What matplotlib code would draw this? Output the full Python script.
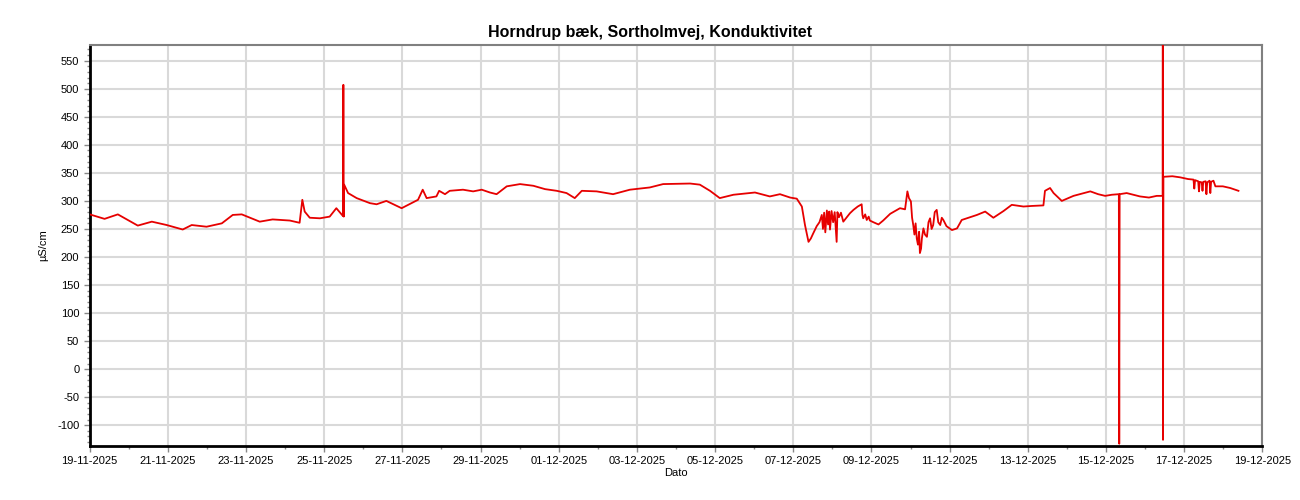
import numpy as np
import pandas as pd
import matplotlib
matplotlib.use('Agg')
import matplotlib.pyplot as plt
import matplotlib.dates as mdates
from matplotlib.ticker import MultipleLocator, FixedLocator

plt.rcParams['font.family'] = ['Liberation Sans', 'DejaVu Sans']
plt.rcParams['axes.unicode_minus'] = False

# tid i dage efter 19-11-2025 00:00
dage = [
    0.00, 0.38, 0.72, 1.23, 1.59, 1.97, 2.38, 2.61, 2.99, 3.38, 3.66, 3.89,
    4.35, 4.68, 5.12, 5.37, 5.44, 5.50, 5.63, 5.89, 6.14, 6.31, 6.48,
    6.49, 6.50, 6.51, 6.61, 6.83, 7.17, 7.34, 7.59, 7.98, 8.40, 8.52, 8.62,
    8.87, 8.94, 9.09, 9.21, 9.55, 9.81, 10.03, 10.24, 10.41, 10.67, 11.01,
    11.35, 11.65, 11.95, 12.20, 12.41, 12.59, 12.97, 13.39, 13.82, 14.33,
    14.67, 15.36, 15.61, 15.87, 16.12, 16.47, 17.02, 17.40, 17.66, 17.92,
    18.09, 18.22, 18.30, 18.39, 18.45, 18.51, 18.60, 18.67, 18.73, 18.76,
    18.79, 18.82, 18.86, 18.89, 18.92, 18.94, 18.98, 19.02, 19.06, 19.11,
    19.13, 19.17, 19.22, 19.28, 19.36, 19.45, 19.54, 19.65, 19.75, 19.77,
    19.79, 19.84, 19.88, 19.93, 19.96, 20.05, 20.18, 20.30, 20.48, 20.73,
    20.86, 20.92, 20.96, 21.01, 21.04, 21.07, 21.10, 21.13, 21.16, 21.19,
    21.22, 21.24, 21.27, 21.29, 21.33, 21.37, 21.42, 21.46, 21.50, 21.54,
    21.58, 21.62, 21.67, 21.71, 21.76, 21.80, 21.84, 21.92, 22.06, 22.19,
    22.31, 22.70, 22.91, 23.12, 23.38, 23.59, 23.89, 24.10, 24.40, 24.44,
    24.57, 24.66, 24.87, 25.17, 25.60, 25.80, 25.98, 26.15, 26.33, 26.34,
    26.35, 26.53, 26.87, 27.10, 27.30, 27.45, 27.455, 27.46, 27.47, 27.70,
    27.90, 28.10, 28.24, 28.26, 28.28, 28.36, 28.38, 28.40, 28.45, 28.47,
    28.49, 28.55, 28.57, 28.59, 28.65, 28.67, 28.69, 28.75, 28.80, 28.99,
    29.18, 29.39,
]

konduktivitet = [
    276, 268, 276, 256, 263, 257, 249, 257, 254, 260, 275, 276,
    263, 267, 265, 261, 302, 281, 270, 269, 272, 287, 273,
    507, 272, 329, 314, 305, 296, 294, 300, 287, 302, 320, 305,
    308, 318, 312, 318, 320, 317, 320, 315, 312, 326, 330,
    327, 321, 318, 314, 305, 318, 317, 312, 320, 324,
    330, 331, 329, 318, 305, 311, 315, 308, 312, 306,
    304, 290, 257, 227, 233, 242, 255, 262, 275, 250,
    279, 244, 283, 258, 281, 249, 282, 262, 280, 227,
    280, 271, 279, 263, 270, 278, 284, 290, 294, 275,
    269, 276, 266, 272, 265, 262, 258, 265, 277, 287,
    285, 317, 305, 299, 270, 257, 240, 260, 233, 222,
    245, 207, 215, 233, 251, 240, 236, 262, 269, 250,
    257, 280, 284, 262, 257, 270, 266, 255, 248, 251,
    266, 275, 281, 270, 282, 293, 290, 291, 292, 318,
    323, 314, 300, 309, 317, 312, 309, 311, 312, -133,
    312, 314, 308, 306, 309, 309, 650, -126, 343, 344,
    342, 339, 338, 322, 337, 335, 317, 334, 333, 318,
    334, 335, 312, 333, 336, 314, 334, 336, 326, 326,
    323, 318,
]

start = pd.Timestamp('2025-11-19')
slut = pd.Timestamp('2025-12-19')
tid = start + pd.to_timedelta(dage, unit='D')

fig = plt.figure(figsize=(13, 5), dpi=100)
ax = fig.add_axes([0.069, 0.108, 0.902, 0.802])

ax.plot(tid, konduktivitet, color='#e60000', lw=1.3, zorder=3)

ax.set_xlim(start, slut)
ax.set_ylim(-137, 578)

ax.xaxis.set_major_locator(FixedLocator(mdates.date2num(pd.date_range(start, slut, freq='2D'))))
ax.xaxis.set_minor_locator(FixedLocator(mdates.date2num(pd.date_range(start, slut, freq='1D'))))
ax.xaxis.set_major_formatter(mdates.DateFormatter('%d-%m-%Y'))
ax.yaxis.set_major_locator(MultipleLocator(50))
ax.yaxis.set_minor_locator(MultipleLocator(10))

ax.grid(True, which='major', color='#d9d9d9', lw=1.5, zorder=0)
ax.tick_params(which='both', direction='out', labelsize=8, colors='black')
ax.tick_params(which='major', length=4, width=1, color='#888888')
ax.tick_params(which='minor', length=2, width=1, color='#888888')

for s in ['left', 'bottom']:
    ax.spines[s].set_color('black')
    ax.spines[s].set_linewidth(2)
for s in ['top', 'right']:
    ax.spines[s].set_color('#808080')
    ax.spines[s].set_linewidth(1.5)

fig.suptitle('Horndrup bæk, Sortholmvej, Konduktivitet', fontsize=11.5,
             fontweight='bold', x=0.5, y=0.95)
ax.set_xlabel('Dato', fontsize=8, labelpad=1)
ax.set_ylabel('µS/cm', fontsize=8, labelpad=6)

fig.savefig('out.png', dpi=100)
